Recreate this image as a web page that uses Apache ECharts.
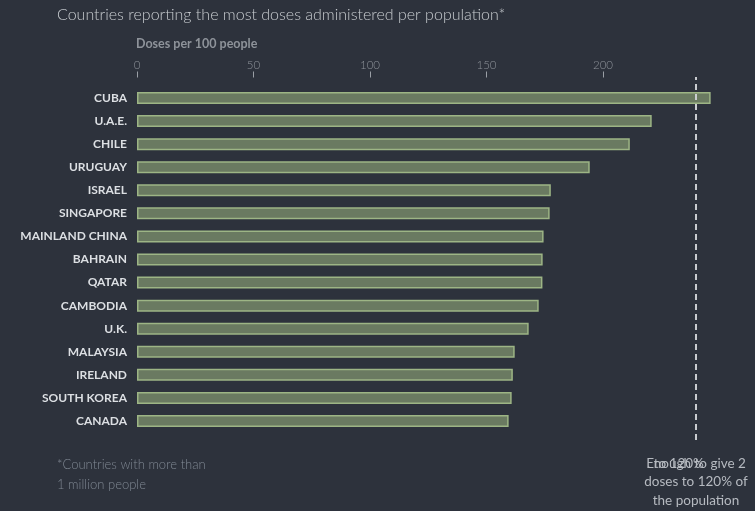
<!DOCTYPE html>
<html>
<head>
<meta charset="utf-8">
<script src="https://cdn.jsdelivr.net/npm/echarts@6/dist/echarts.min.js"></script>
<style>
  html, body { margin: 0; padding: 0; background: #2d323c; }
  #chart { width: 755px; height: 511px; }
</style>
</head>
<body>
<div id="chart"></div>
<script>
var countries = ['CUBA', 'U.A.E.', 'CHILE', 'URUGUAY', 'ISRAEL', 'SINGAPORE', 'MAINLAND CHINA',
  'BAHRAIN', 'QATAR', 'CAMBODIA', 'U.K.', 'MALAYSIA', 'IRELAND', 'SOUTH KOREA', 'CANADA'];
var doses = [246.2, 220.9, 211.5, 194.3, 177.6, 177.1, 174.5, 174.1, 174.0, 172.4, 168.1, 162.1, 161.3, 160.8, 159.5];
var tickValues = [0, 50, 100, 150, 200];
var targetLine = 240;

var mychart = echarts.init(document.getElementById('chart'));

var font = 'Lato, "Open Sans", sans-serif';

mychart.setOption({
  backgroundColor: '#2d323c',
  animation: false,
  textStyle: { fontFamily: font },
  title: [{
    text: 'Countries reporting the most doses administered per population*',
    left: 57, top: 7, padding: 0,
    textStyle: { color: '#c8ccd0', fontSize: 16, fontWeight: 300, fontFamily: font }
  }, {
    text: 'Doses per 100 people',
    left: 136, top: 37, padding: 0,
    textStyle: { color: '#8e939a', fontSize: 12.5, fontWeight: 'bold', fontFamily: font }
  }],
  grid: [
    { left: 137, right: 35.5, top: 86.5, bottom: 78.5 },
    { left: 137, right: 35.5, top: 77, bottom: 71 }
  ],
  xAxis: [{
    gridIndex: 0,
    type: 'value',
    position: 'top',
    offset: 9,
    min: 0, max: 250, interval: 50,
    splitLine: { show: false },
    axisLine: { show: false },
    axisTick: { show: true, length: 6, customValues: tickValues, lineStyle: { color: '#9a9fa6' } },
    axisLabel: { customValues: tickValues, color: '#8e939a', fontSize: 11.5, fontWeight: 300, margin: 6 }
  }, {
    gridIndex: 1,
    type: 'value',
    min: 0, max: 250,
    show: false
  }],
  yAxis: [{
    gridIndex: 0,
    type: 'category',
    data: countries,
    inverse: true,
    axisLine: { show: false },
    axisTick: { show: false },
    axisLabel: { color: '#dcdfe3', fontSize: 12, fontWeight: 'bold', margin: 10 }
  }, {
    gridIndex: 1,
    type: 'value',
    show: false
  }],
  series: [{
    type: 'bar',
    xAxisIndex: 0, yAxisIndex: 0,
    data: doses,
    barWidth: 12,
    itemStyle: { color: '#6a7a61', borderColor: '#9db585', borderWidth: 1.5 }
  }, {
    type: 'line',
    xAxisIndex: 1, yAxisIndex: 1,
    data: [],
    markLine: {
      silent: true,
      symbol: 'none',
      label: { show: false },
      lineStyle: { color: '#c9ccd0', type: [6, 4], width: 2 },
      data: [{ xAxis: targetLine }]
    }
  }],
  graphic: [{
    type: 'text',
    x: 57, y: 455,
    style: {
      text: '*Countries with more than\n1 million people',
      fill: '#7f8792', font: '300 13px ' + font, lineHeight: 20
    }
  }, {
    type: 'text',
    x: 696, y: 454,
    style: {
      text: 'Enough to give 2\ndoses to 120% of\nthe population',
      fill: '#b6bac0', font: '13.5px ' + font, lineHeight: 18.5, align: 'center'
    }
  }, {
    type: 'text',
    x: 647, y: 454,
    style: {
      text: '. to 120%',
      fill: '#b6bac0', font: '13.5px ' + font, lineHeight: 18.5
    }
  }]
});
</script>
</body>
</html>
